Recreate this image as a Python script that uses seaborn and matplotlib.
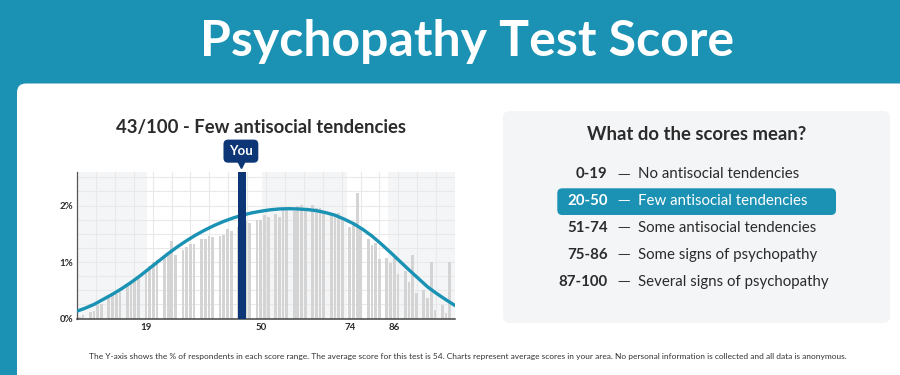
import numpy as np
import matplotlib
matplotlib.use("Agg")
import matplotlib.pyplot as plt
from matplotlib.patches import FancyBboxPatch
from matplotlib.transforms import offset_copy
import seaborn as sns

# ---------------- data ----------------
scores = [1, 2,
          4, 5, 6, 7,
          9, 10, 11, 12,
          14, 15, 16, 17,
          19, 20, 21, 22,
          24, 25, 26, 27,
          29, 30, 31, 32,
          34, 35, 36, 37,
          39, 40, 41, 42,
          44, 46, 47,
          49, 50, 51, 52,
          54, 55, 56, 57,
          59, 60, 61, 62,
          64, 65, 66, 67,
          69, 70, 71, 72,
          74, 75, 76, 77,
          79, 80, 81, 82,
          84, 85, 86, 87,
          89, 90, 91, 92,
          94, 95, 96, 97,
          99, 100, 101]
percent = [0.03, 0.06,
           0.12, 0.13, 0.24, 0.25,
           0.36, 0.40, 0.44, 0.47,
           0.60, 0.63, 0.70, 0.76,
           0.82, 0.93, 1.00, 1.04,
           1.10, 1.12, 1.38, 1.13,
           1.21, 1.26, 1.32, 1.32,
           1.41, 1.41, 1.47, 1.44,
           1.47, 1.48, 1.58, 1.55,
           1.62, 1.72, 1.69,
           1.74, 1.74, 1.83, 1.80,
           1.85, 1.79, 1.92, 1.93,
           1.91, 1.99, 2.01, 1.91,
           2.01, 1.95, 1.96, 1.89,
           1.84, 1.81, 1.87, 1.75,
           1.62, 1.71, 2.22, 1.62,
           1.40, 1.31, 1.34, 1.05,
           1.07, 0.98, 1.08, 0.79,
           0.84, 0.65, 1.12, 0.45,
           0.51, 0.36, 1.00, 0.15,
           0.24, 0.09, 1.00]

curve_x = [0.4, 2.5, 5, 7.5, 10, 12.5, 15, 17.5, 20, 22.5, 25, 27.5, 30, 32.5, 35, 37.5, 40, 42.5,
           45, 47.5, 50, 52.5, 55, 57.5, 60, 62.5, 65, 67.5, 70, 72.5, 75, 77.5, 80, 82.5, 85, 87.5,
           90, 92.5, 95, 97.5, 100, 102.4]
curve_y = [0.13, 0.18, 0.25, 0.34, 0.43, 0.53, 0.64, 0.76, 0.89, 1.02, 1.15, 1.27, 1.38, 1.48, 1.57,
           1.65, 1.72, 1.78, 1.83, 1.87, 1.90, 1.925, 1.94, 1.945, 1.94, 1.93, 1.91, 1.875, 1.83, 1.76,
           1.68, 1.58, 1.46, 1.32, 1.17, 1.015, 0.86, 0.71, 0.56, 0.44, 0.33, 0.23]

you_position = 45
user_score = 43
tick_values = [19, 50, 74, 86]
tick_labels = ["19", "50", "74", "86"]
band_starts = [0.4, 50.3, 84.3]
band_ends = [19.3, 73.3, 102.4]

range_labels = ["0-19", "20-50", "51-74", "75-86", "87-100"]
range_descs = ["No antisocial tendencies", "Few antisocial tendencies", "Some antisocial tendencies",
               "Some signs of psychopathy", "Several signs of psychopathy"]
highlight_row = 1

page_title = "Psychopathy Test Score"
chart_title = f"{user_score}/100 - Few antisocial tendencies"
legend_title = "What do the scores mean?"
footnote = ("The Y-axis shows the % of respondents in each score range. The average score for this test is 54. "
            "Charts represent average scores in your area. No personal information is collected and all data is anonymous.")

# ---------------- style ----------------
TEAL = "#1b91b3"
LINE = "#1a92b4"
NAVY = "#0c3676"
BAR = "#d4d4d4"
BAND = "#f3f5f7"
DARK = "#2b2b2b"

sns.set_style("white")
plt.rcParams["font.family"] = ["Lato", "DejaVu Sans"]

fig = plt.figure(figsize=(9, 3.75), dpi=100)
fig.patch.set_facecolor(TEAL)
inch = fig.dpi_scale_trans

# white card
card = FancyBboxPatch((0.17, -0.5), 9.5, (375 - 83.5) / 100 + 0.5,
                      boxstyle="round,pad=0,rounding_size=0.09", transform=inch,
                      fc="white", ec="none", zorder=0)
fig.add_artist(card)

fig.text(4.675, 3.34, page_title, transform=inch, ha="center", va="center",
         color="white", fontsize=36, fontweight="bold")

# ---------------- chart ----------------
ax = fig.add_axes([77 / 900, 1 - 318.5 / 375, 378 / 900, (318.5 - 171.7) / 375])
ax.set_facecolor("white")
ymax = 2.6
xmin, xmax = 0.4, 102.4

for s, e in zip(band_starts, band_ends):
    ax.axvspan(s, e, color=BAND, lw=0, zorder=0)

sns.barplot(x=scores, y=percent, native_scale=True, width=0.75, color=BAR, saturation=1,
            errorbar=None, ax=ax, zorder=2, edgecolor="none", linewidth=0)
sns.lineplot(x=curve_x, y=curve_y, ax=ax, color=LINE, linewidth=2.4, zorder=4)
ax.bar([you_position], [ymax], width=2.2, color=NAVY, lw=0, zorder=5)

ax.set_xlim(xmin, xmax)
ax.set_ylim(0, ymax)
ax.set_xticks(tick_values)
ax.set_xticklabels(tick_labels)
ax.set_yticks([0, 1, 2])
ax.set_yticklabels(["0%", "1%", "2%"])
ax.set_xticks(np.linspace(xmin, xmax, 21), minor=True)
ax.set_yticks(np.arange(0, 2.6, 0.25), minor=True)
ax.xaxis.grid(True, which="minor", color="#e9e9e9", lw=0.8)
ax.yaxis.grid(True, which="minor", color="#e9e9e9", lw=0.8)
ax.yaxis.grid(True, which="major", color="#e9e9e9", lw=0.8)
ax.set_axisbelow(True)
ax.tick_params(which="both", length=0)
ax.tick_params(axis="x", pad=3.5, labelsize=7, labelcolor=DARK)
ax.tick_params(axis="y", pad=2.5, labelsize=7, labelcolor=DARK)
for lbl in ax.get_xticklabels() + ax.get_yticklabels():
    lbl.set_fontweight("bold")
ax.set_xlabel("")
ax.set_ylabel("")
for side in ["top", "right"]:
    ax.spines[side].set_visible(False)
ax.spines["left"].set_color("#555555")
ax.spines["left"].set_linewidth(0.9)
ax.spines["bottom"].set_color("#444444")
ax.spines["bottom"].set_linewidth(1.1)

# "You" marker
ax.annotate("You", xy=(you_position, ymax), xytext=(-1, 14.8), textcoords="offset points",
            ha="center", va="center", color="white", fontsize=9.5, fontweight="bold",
            bbox=dict(boxstyle="round,pad=0.42,rounding_size=0.35", fc=NAVY, ec="none"),
            annotation_clip=False, zorder=6)
tri = offset_copy(ax.transData, fig=fig, x=-0.7, y=5.5, units="points")
ax.plot([you_position], [ymax], marker="v", ms=6, color=NAVY, transform=tri, clip_on=False, zorder=6)

fig.text(2.61, 2.47, chart_title, transform=inch, ha="center", va="center",
         color=DARK, fontsize=13.3, fontweight="bold")

# ---------------- legend panel ----------------
panel = FancyBboxPatch((5.03, 0.52), 3.87, 2.12, boxstyle="round,pad=0,rounding_size=0.07",
                       transform=inch, fc="#f4f5f7", ec="none", zorder=1)
fig.add_artist(panel)
fig.text(6.965, 2.41, legend_title, transform=inch, ha="center", va="center",
         color=DARK, fontsize=13.3, fontweight="bold", zorder=3)

row_centers = [173.3, 200.0, 226.7, 254.0, 280.7]
hl = FancyBboxPatch((5.573, (375 - 215) / 100), 2.787, 0.267, boxstyle="round,pad=0,rounding_size=0.05",
                    transform=inch, fc=TEAL, ec="none", zorder=2)
fig.add_artist(hl)
for i, (rl, rd, yc) in enumerate(zip(range_labels, range_descs, row_centers)):
    col = "white" if i == highlight_row else DARK
    yb = (375 - yc - 4.9) / 100
    fig.text(6.075, yb, rl, transform=inch, ha="right", va="baseline", color=col,
             fontsize=10.8, fontweight="bold", zorder=3)
    fig.text(6.24, yb + 0.005, "\u2014", transform=inch, ha="center", va="baseline", color=col,
             fontsize=9, family="DejaVu Sans", zorder=3)
    fig.text(6.38, yb, rd, transform=inch, ha="left", va="baseline", color=col,
             fontsize=10.8, zorder=3)

fig.text(4.68, (375 - 356) / 100, footnote, transform=inch, ha="center", va="center",
         color="#333333", fontsize=6.0)

fig.savefig("out.png", dpi=100, facecolor=fig.get_facecolor())
